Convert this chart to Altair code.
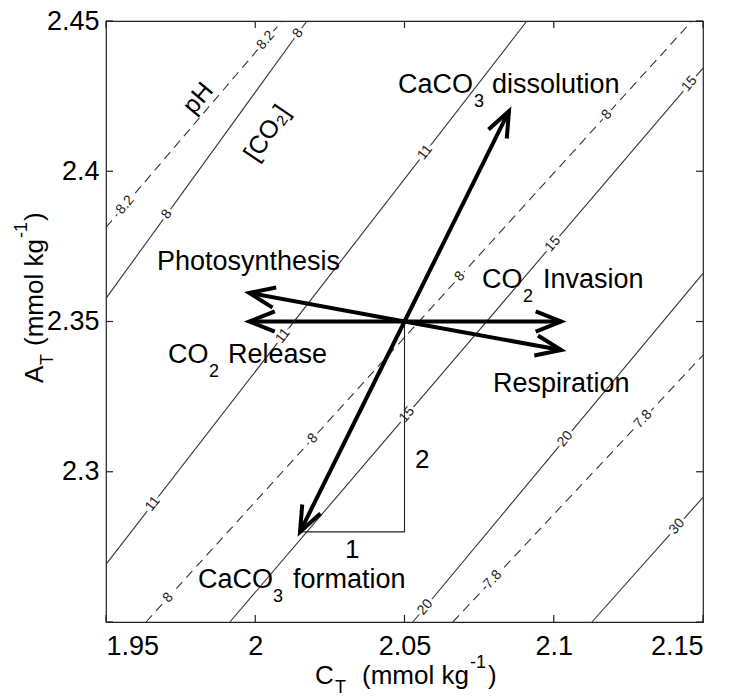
import math
import altair as alt
import pandas as pd

# ---------------- layout ----------------
LEFT, TOP, W, H = 106, 21, 597, 601
RIGHT_PAD, BOTTOM_PAD = 26, 75
FONT = "Liberation Sans"

# ---------------- axes ----------------
x_domain = [1.95, 2.15]
y_domain = [2.25, 2.45]
x_ticks = [1.95, 2.0, 2.05, 2.1, 2.15]
y_ticks = [2.25, 2.3, 2.35, 2.4, 2.45]
y_tick_labels = [2.3, 2.35, 2.4, 2.45]

# ---------------- pH isolines (dashed) ----------------
ph_levels = ["8.2", "8", "7.8"]
ph_line_x = [[1.95, 2.009], [1.9634, 2.1463], [2.0662, 2.15]]
ph_line_y = [[2.3813, 2.45], [2.25, 2.45], [2.25, 2.3388]]
ph_label_level = ["8.2", "8.2", "8", "8", "8", "8", "7.8", "7.8"]
ph_label_x = [1.9564, 2.0035, 1.9708, 2.0193, 2.0686, 2.1178, 2.0796, 2.1299]
ph_label_y = [2.3888, 2.4436, 2.2581, 2.3111, 2.3650, 2.4188, 2.2642, 2.3175]

# ---------------- [CO2] isolines (solid) ----------------
co2_levels = ["8", "11", "15", "20", "30"]
co2_line_x = [[1.95, 2.0173], [1.95, 2.091], [1.9915, 2.15], [2.0528, 2.15], [2.1128, 2.15]]
co2_line_y = [[2.3577, 2.45], [2.2692, 2.45], [2.25, 2.4343], [2.25, 2.366], [2.25, 2.2915]]
co2_label_level = ["8", "8", "11", "11", "11", "15", "15", "15", "20", "20", "30"]
co2_label_x = [1.9704, 2.0143, 1.9657, 2.0093, 2.0569, 2.0508, 2.0997, 2.1455, 2.0569, 2.1038, 2.1413]
co2_label_y = [2.3857, 2.4459, 2.2893, 2.3452, 2.4063, 2.3190, 2.3758, 2.4291, 2.2549, 2.3109, 2.2818]

# ---------------- process arrows ----------------
origin_x, origin_y = 2.05, 2.35
arrow_process = ["CaCO3 dissolution", "CaCO3 formation", "CO2 invasion",
                 "CO2 release", "Photosynthesis", "Respiration"]
arrow_end_x = [2.085, 2.015, 2.1025, 1.998, 1.998, 2.1025]
arrow_end_y = [2.42, 2.28, 2.35, 2.35, 2.3595, 2.3405]

# slope triangle (1 : 2)
tri_x = [2.015, 2.05, 2.05]
tri_y = [2.28, 2.28, 2.35]

# ---------------- annotations (page pixels) ----------------
ann_text = ["CaCO", "3", "dissolution", "Photosynthesis", "CO", "2", "Release",
            "CO", "2", "Invasion", "Respiration", "CaCO", "3", "formation", "1", "2",
            "C", "T", "(mmol kg", "-1", ")",
            "A", "T", "(mmol kg", "-1", ")"]
ann_px = [398, 474, 492, 157, 168, 209, 228, 482, 523, 543, 493, 198, 273, 293, 345, 415,
          315, 335, 362, 470, 488,
          43, 53, 43, 27, 43]
ann_py = [93, 107, 93, 270, 363, 377, 363, 288, 302, 288, 392, 588, 602, 588, 558, 468,
          684, 693, 684, 668, 684,
          383, 365, 346, 238, 221]
ann_size = [27, 18, 27, 27, 27, 18, 27, 27, 18, 27, 27, 27, 18, 27, 26, 26,
            26, 18, 26, 18, 26,
            26, 18, 26, 18, 26]
ann_angle = [0] * 21 + [270] * 5

rot_text = ["pH", "[CO\u2082]"]
rot_px = [198, 267]
rot_py = [98, 133]
rot_angle = [310, 304]


def px_to_x(px):
    return x_domain[0] + (px - LEFT) / W * (x_domain[1] - x_domain[0])


def py_to_y(py):
    return y_domain[1] - (py - TOP) / H * (y_domain[1] - y_domain[0])


def screen_angle(dx, dy):
    dxp = dx * W / (x_domain[1] - x_domain[0])
    dyp = -dy * H / (y_domain[1] - y_domain[0])
    return math.degrees(math.atan2(dyp, dxp)) % 360


# ---------------- tables ----------------
rows = []
for kind, levels, lx, ly in [("pH", ph_levels, ph_line_x, ph_line_y),
                             ("CO2", co2_levels, co2_line_x, co2_line_y)]:
    for lvl, xs_, ys_ in zip(levels, lx, ly):
        for i, (a, b) in enumerate(zip(xs_, ys_)):
            rows.append(dict(kind=kind, id=kind + lvl, i=i, x=a, y=b))
lines_df = pd.DataFrame(rows)

lab_rows = []
for kind, levels, lx, ly, tl, tx, ty in [
        ("pH", ph_levels, ph_line_x, ph_line_y, ph_label_level, ph_label_x, ph_label_y),
        ("CO2", co2_levels, co2_line_x, co2_line_y, co2_label_level, co2_label_x, co2_label_y)]:
    for t, a, b in zip(tl, tx, ty):
        k = levels.index(t)
        ang = screen_angle(lx[k][-1] - lx[k][0], ly[k][-1] - ly[k][0])
        lab_rows.append(dict(text=t, x=a, y=b, angle=ang))
labels_df = pd.DataFrame(lab_rows)

arrows_df = pd.DataFrame({
    "process": arrow_process,
    "x0": origin_x, "y0": origin_y,
    "x": arrow_end_x, "y": arrow_end_y,
})
arrows_df["angle"] = [screen_angle(a - origin_x, b - origin_y)
                      for a, b in zip(arrow_end_x, arrow_end_y)]

tri_df = pd.DataFrame({"x": tri_x, "y": tri_y, "i": range(len(tri_x))})

ann_df = pd.DataFrame({
    "text": ann_text,
    "x": [px_to_x(p) for p in ann_px],
    "y": [py_to_y(p) for p in ann_py],
    "size": ann_size,
    "angle": ann_angle,
})
rot_df = pd.DataFrame({
    "text": rot_text,
    "x": [px_to_x(p) for p in rot_px],
    "y": [py_to_y(p) for p in rot_py],
    "angle": rot_angle,
})

xt_bottom = pd.DataFrame({"x": x_ticks, "y": y_domain[0]})
xt_top = pd.DataFrame({"x": x_ticks, "y": y_domain[1]})
yt_left = pd.DataFrame({"x": x_domain[0], "y": y_ticks})
yt_right = pd.DataFrame({"x": x_domain[1], "y": y_ticks})

# ---------------- encodings ----------------
xs = alt.Scale(domain=x_domain, nice=False, zero=False)
ys = alt.Scale(domain=y_domain, nice=False, zero=False)
x_axis = alt.Axis(values=x_ticks, format="~g", title=None, ticks=False, tickSize=0,
                  domain=False, grid=False, labelPadding=11, labelFont=FONT,
                  labelFontSize=27, labelColor="black")
y_axis = alt.Axis(values=y_tick_labels, format="~g", title=None, ticks=False, tickSize=0,
                  domain=False, grid=False, labelPadding=7, labelFont=FONT,
                  labelFontSize=27, labelColor="black")


def X(f="x"):
    return alt.X(f + ":Q", scale=xs, axis=x_axis)


def Y(f="y"):
    return alt.Y(f + ":Q", scale=ys, axis=y_axis)


ph_layer = alt.Chart(lines_df[lines_df.kind == "pH"]).mark_line(
    color="#333", strokeWidth=1.1, strokeDash=[9, 6]
).encode(x=X(), y=Y(), detail="id:N", order="i:Q")

co2_layer = alt.Chart(lines_df[lines_df.kind == "CO2"]).mark_line(
    color="#333", strokeWidth=1.1
).encode(x=X(), y=Y(), detail="id:N", order="i:Q")

label_halo = alt.Chart(labels_df).mark_text(
    font=FONT, fontSize=14, color="white", stroke="white", strokeWidth=6
).encode(x=X(), y=Y(), text="text:N", angle=alt.Angle("angle:Q", scale=None))

label_text = alt.Chart(labels_df).mark_text(
    font=FONT, fontSize=14, color="#222"
).encode(x=X(), y=Y(), text="text:N", angle=alt.Angle("angle:Q", scale=None))

tri_layer = alt.Chart(tri_df).mark_line(color="#222", strokeWidth=1.1).encode(
    x=X(), y=Y(), order="i:Q")

shafts = alt.Chart(arrows_df).mark_rule(color="black", strokeWidth=4, strokeCap="butt").encode(
    x=X("x0"), y=Y("y0"), x2="x:Q", y2="y:Q")

heads = alt.Chart(arrows_df).mark_point(
    shape="M-1,-0.4L0,0L-1,0.4", filled=False, color="black", strokeWidth=4,
    size=2600, opacity=1, strokeJoin="miter"
).encode(x=X(), y=Y(), angle=alt.Angle("angle:Q", scale=None))

ann_layer = alt.Chart(ann_df).mark_text(
    font=FONT, align="left", baseline="alphabetic", color="black"
).encode(x=X(), y=Y(), text="text:N",
         size=alt.Size("size:Q", scale=None, legend=None),
         angle=alt.Angle("angle:Q", scale=None))

rot_layer = alt.Chart(rot_df).mark_text(
    font=FONT, fontSize=25, align="center", baseline="middle", color="black"
).encode(x=X(), y=Y(), text="text:N", angle=alt.Angle("angle:Q", scale=None))

tick_kw = dict(color="#222", thickness=1.2, size=7, opacity=1)
t_bottom = alt.Chart(xt_bottom).mark_tick(orient="vertical", yOffset=-3.5, **tick_kw).encode(x=X(), y=Y())
t_top = alt.Chart(xt_top).mark_tick(orient="vertical", yOffset=3.5, **tick_kw).encode(x=X(), y=Y())
t_left = alt.Chart(yt_left).mark_tick(orient="horizontal", xOffset=3.5, **tick_kw).encode(x=X(), y=Y())
t_right = alt.Chart(yt_right).mark_tick(orient="horizontal", xOffset=-3.5, **tick_kw).encode(x=X(), y=Y())

chart = alt.layer(
    ph_layer, co2_layer, label_halo, label_text, tri_layer, shafts, heads,
    ann_layer, rot_layer, t_bottom, t_top, t_left, t_right
).properties(
    width=W, height=H,
    autosize=alt.AutoSizeParams(type="none"),
    padding={"left": LEFT, "top": TOP, "right": RIGHT_PAD, "bottom": BOTTOM_PAD},
    background="white",
).configure_view(stroke="#222", strokeWidth=1.2)

chart.save("out.html", embed_options={"renderer": "svg", "actions": False})
